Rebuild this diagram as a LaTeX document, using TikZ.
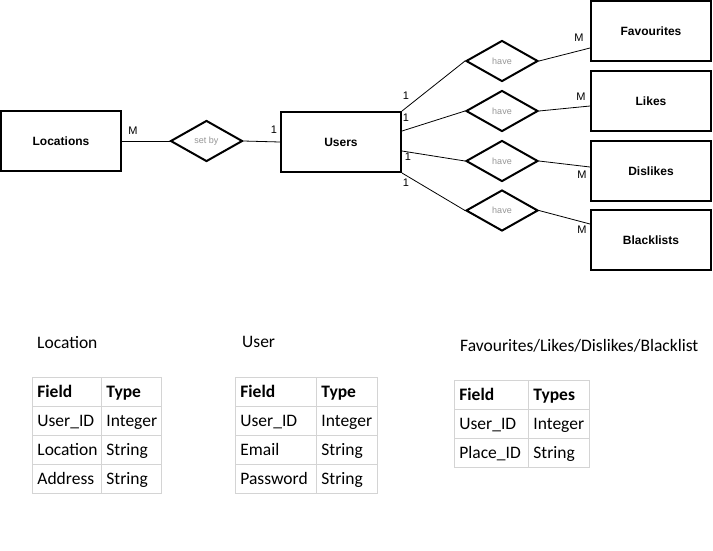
\documentclass[tikz,border=0pt]{standalone}
\usepackage{fontspec}
\setmainfont{Liberation Sans}
\newfontfamily\cellfamily{Carlito}
\usetikzlibrary{shapes.geometric}
\definecolor{tblline}{RGB}{212,212,212}
\definecolor{relgray}{RGB}{150,150,150}
\begin{document}
\begin{tikzpicture}[x=1pt,y=-1pt,
  entity/.style={draw=black, line width=2pt, rectangle, minimum width=120pt, minimum height=60pt, inner sep=0pt, font=\fontsize{12}{13}\selectfont\bfseries},
  rel/.style={draw=black, line width=2pt, diamond, inner sep=0pt, minimum width=72pt, minimum height=41pt, font=\fontsize{9}{10}\selectfont, text=relgray},
  conn/.style={draw=black, line width=0.8pt},
  card/.style={inner sep=0pt, font=\fontsize{11}{12}\selectfont},
  cell/.style={draw=tblline, line width=0.8pt, anchor=north west, minimum height=29pt, inner xsep=5pt, inner ysep=0pt, text height=13.5pt, text depth=1.5pt, align=left, font=\cellfamily\fontsize{17.5}{19}\selectfont},
  ttl/.style={anchor=west, inner sep=0pt, font=\cellfamily\fontsize{17.5}{19}\selectfont}]
\useasboundingbox (0,0) rectangle (713,550);
\fill[white] (0,0) rectangle (713,550);

% entities
\node[entity] (loc) at (61,141) {Locations};
\node[entity] (users) at (341,142) {Users};
\node[entity] (fav) at (651,31) {Favourites};
\node[entity] (likes) at (651,101) {Likes};
\node[entity] (dis) at (651,171) {Dislikes};
\node[entity] (black) at (651,240) {Blacklists};

% relationships
\node[rel] (setby) at (206.5,141) {set by};
\node[rel] (have1) at (502,61) {have};
\node[rel] (have2) at (502,111) {have};
\node[rel] (have3) at (502,161) {have};
\node[rel] (have4) at (502,210.5) {have};

% connectors
\draw[conn] (loc.east) -- (setby.west);
\draw[conn] (setby.east) -- (users.west);
\draw[conn] (users.north east) -- (have1.west);
\draw[conn] ([yshift=11pt]users.east) -- (have2.west);
\draw[conn] ([yshift=-9pt]users.east) -- (have3.west);
\draw[conn] (users.south east) -- (have4.west);
\draw[conn] (have1.east) -- ([yshift=-17pt]fav.west);
\draw[conn] (have2.east) -- ([yshift=-5pt]likes.west);
\draw[conn] (have3.east) -- ([yshift=4pt]dis.west);
\draw[conn] (have4.east) -- ([yshift=16pt]black.west);

% cardinalities
\node[card] (cm1) at (133,131) {M};
\node[card] (c11) at (274,130) {1};
\node[card] (c12) at (406,96) {1};
\node[card] (c13) at (406,118) {1};
\node[card] (c14) at (408,157) {1};
\node[card] (c15) at (406,183) {1};
\node[card] (cm2) at (579,38) {M};
\node[card] (cm3) at (581,97) {M};
\node[card] (cm4) at (582,175) {M};
\node[card] (cm5) at (582,230) {M};

% table 1
\node[ttl] (t1) at (37,343) {Location};
\node[cell, text width=59pt] (t1r0a) at (32,377) {\textbf{Field}};
\node[cell, text width=50pt] (t1r0b) at (101,377) {\textbf{Type}};
\node[cell, text width=59pt] (t1r1a) at (32,406) {User\_ID};
\node[cell, text width=50pt] (t1r1b) at (101,406) {Integer};
\node[cell, text width=59pt] (t1r2a) at (32,435) {Location};
\node[cell, text width=50pt] (t1r2b) at (101,435) {String};
\node[cell, text width=59pt] (t1r3a) at (32,464) {Address};
\node[cell, text width=50pt] (t1r3b) at (101,464) {String};

% table 2
\node[ttl] (t2) at (242,342) {User};
\node[cell, text width=71pt] (t2r0a) at (235,377) {\textbf{Field}};
\node[cell, text width=51pt] (t2r0b) at (316,377) {\textbf{Type}};
\node[cell, text width=71pt] (t2r1a) at (235,406) {User\_ID};
\node[cell, text width=51pt] (t2r1b) at (316,406) {Integer};
\node[cell, text width=71pt] (t2r2a) at (235,435) {Email};
\node[cell, text width=51pt] (t2r2b) at (316,435) {String};
\node[cell, text width=71pt] (t2r3a) at (235,464) {Password};
\node[cell, text width=51pt] (t2r3b) at (316,464) {String};

% table 3
\node[ttl] (t3) at (460,346) {Favourites/Likes/Dislikes/Blacklist};
\node[cell, text width=64pt] (t3r0a) at (454,380) {\textbf{Field}};
\node[cell, text width=51pt] (t3r0b) at (528,380) {\textbf{Types}};
\node[cell, text width=64pt] (t3r1a) at (454,409) {User\_ID};
\node[cell, text width=51pt] (t3r1b) at (528,409) {Integer};
\node[cell, text width=64pt] (t3r2a) at (454,438) {Place\_ID};
\node[cell, text width=51pt] (t3r2b) at (528,438) {String};
\end{tikzpicture}
\end{document}
